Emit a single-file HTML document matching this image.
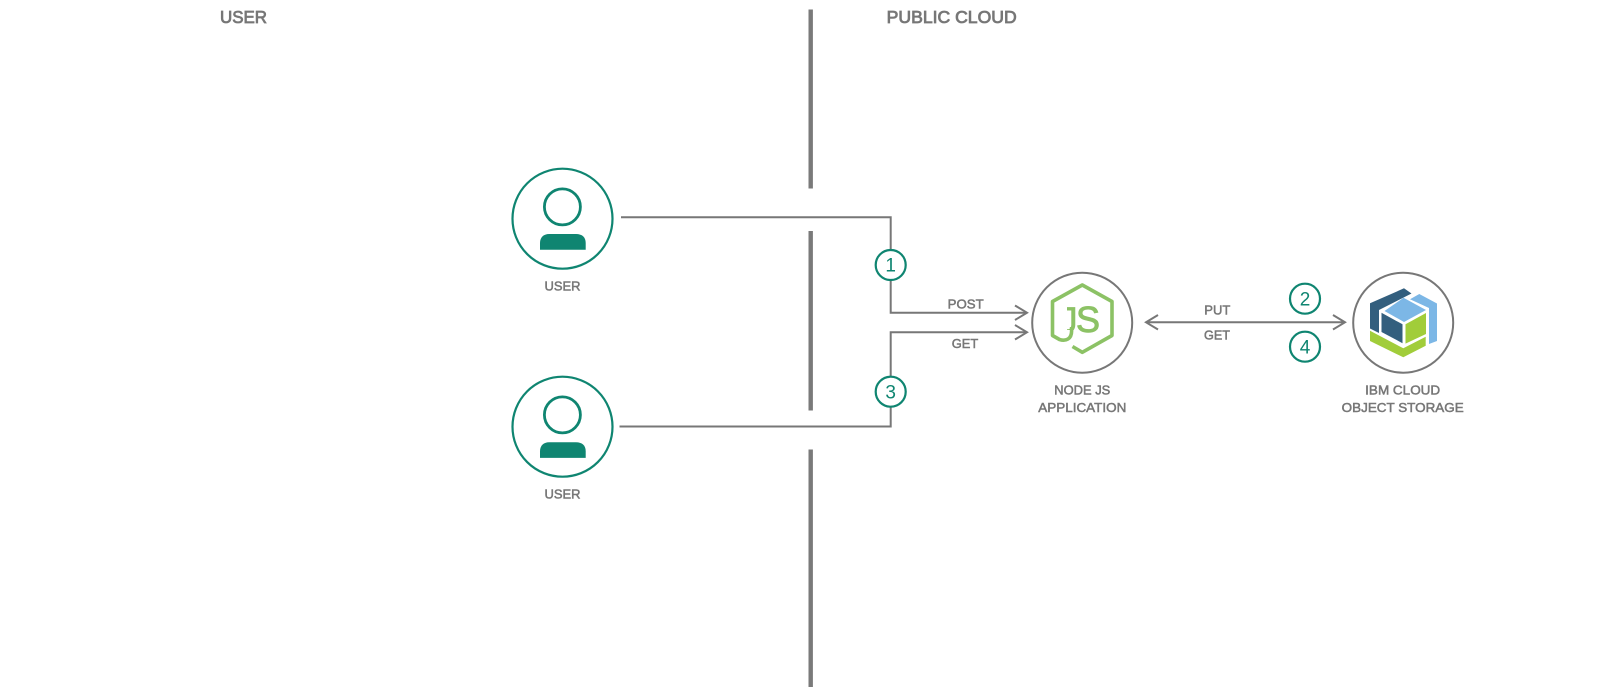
<!DOCTYPE html>
<html><head><meta charset="utf-8"><style>
html,body{margin:0;padding:0;background:#fff;width:1601px;height:697px;overflow:hidden}
svg{display:block}
text{font-family:"Liberation Sans",sans-serif}
.l{fill:#777;stroke:#777;stroke-width:.5;font-size:13px;text-anchor:middle}
.t{fill:#777;stroke:#777;stroke-width:.8;font-size:17.5px;text-anchor:middle}
.n{fill:#0f8571;font-size:19px;text-anchor:middle}
.c{fill:#fff;stroke:#0f8571;stroke-width:2.2}
.h{fill:#fff;stroke:#0f8571;stroke-width:2.8}
.g{fill:none;stroke:#777;stroke-width:2}
</style></head><body>
<svg width="1601" height="697" viewBox="0 0 1601 697" xmlns="http://www.w3.org/2000/svg">
<defs><clipPath id="jc"><rect x="1067" y="300" width="12" height="30"/></clipPath></defs>
<rect width="1601" height="697" fill="#fff"/>
<g stroke="#7a7a7a" stroke-width="4.4" fill="none">
<path d="M810.7 9.5V188.5M810.7 231V410.5M810.7 449.5V687"/>
</g>
<text class="t" x="243.5" y="23" textLength="47" lengthAdjust="spacingAndGlyphs">USER</text>
<text class="t" x="951.7" y="23" textLength="130" lengthAdjust="spacingAndGlyphs">PUBLIC CLOUD</text>

<path class="g" d="M621 217.3H890.7V312.7H1027"/>
<path class="g" d="M619.5 426.5H890.7V332.3H1027"/>
<path class="g" d="M1015 305.5L1027 312.7L1015 320M1015 325L1027 332.3L1015 339.5"/>
<path class="g" d="M1158 315L1146 322.3L1158 329.5M1146 322.3H1345M1333 315L1345 322.3L1333 329.5"/>

<circle class="c" cx="562.5" cy="218.7" r="50"/>
<circle class="h" cx="562.4" cy="206.9" r="18"/>
<path fill="#0f8571" d="M540 249.7V243C540 237 544 234 549 234H576C582 234 585.7 237 585.7 243V249.7Z"/>
<text class="l" x="562.5" y="290.5" textLength="36" lengthAdjust="spacingAndGlyphs">USER</text>

<circle class="c" cx="562.5" cy="426.7" r="50"/>
<circle class="h" cx="562.4" cy="414.9" r="18"/>
<path fill="#0f8571" d="M540 457.9V451.2C540 445.2 544 442.2 549 442.2H576C582 442.2 585.7 445.2 585.7 451.2V457.9Z"/>
<text class="l" x="562.5" y="498.7" textLength="36" lengthAdjust="spacingAndGlyphs">USER</text>

<circle class="c" cx="890.7" cy="265" r="15"/>
<text class="n" x="890.7" y="271.7">1</text>
<circle class="c" cx="890.7" cy="391.7" r="15"/>
<text class="n" x="890.7" y="398.4">3</text>
<circle class="c" cx="1305" cy="298.7" r="15"/>
<text class="n" x="1305" y="305.4">2</text>
<circle class="c" cx="1305" cy="346.7" r="15"/>
<text class="n" x="1305" y="353.4">4</text>

<text class="l" x="965.7" y="308.7" textLength="36" lengthAdjust="spacingAndGlyphs">POST</text>
<text class="l" x="965" y="348" textLength="26.5" lengthAdjust="spacingAndGlyphs">GET</text>
<text class="l" x="1217.3" y="314.7" textLength="26" lengthAdjust="spacingAndGlyphs">PUT</text>
<text class="l" x="1217" y="339.7" textLength="26" lengthAdjust="spacingAndGlyphs">GET</text>

<circle cx="1082.2" cy="322.7" r="50" fill="#fff" stroke="#777" stroke-width="2"/>
<path fill="none" stroke="#8cc265" stroke-width="3.6" stroke-linejoin="round" d="M1071.6 327V331C1071.6 339 1066 341.5 1059.5 339.5L1052.5 335.5V301.5L1082.3 285L1112 301.5V335.5L1082.3 352.3L1072.5 346.5"/>
<text x="1060" y="332.2" font-size="35" fill="#8cc265" stroke="#8cc265" stroke-width=".7" clip-path="url(#jc)">J</text>
<text x="1076" y="332" font-size="36" fill="#8cc265" stroke="#8cc265" stroke-width=".9">S</text>
<text class="l" x="1082.3" y="394.7" textLength="56" lengthAdjust="spacingAndGlyphs">NODE JS</text>
<text class="l" x="1082.3" y="412" textLength="88" lengthAdjust="spacingAndGlyphs">APPLICATION</text>

<circle cx="1403.2" cy="322.7" r="50" fill="#fff" stroke="#777" stroke-width="2"/>
<polygon fill="#335f7e" points="1370,303.3 1404,288.3 1411.5,293.5 1379,310 1379,333 1370,328.5"/>
<polygon fill="#7cb7e6" points="1419.3,294 1437,303.5 1437,341 1429,344 1429,308 1410,299.3"/>
<polygon fill="#7cb7e6" points="1403.5,297.8 1426,310 1404,322 1384.5,311"/>
<polygon fill="#335f7e" points="1381.5,312.8 1402.5,324.3 1402.5,343.2 1381.5,332"/>
<polygon fill="#a1cd3a" points="1405.5,324.3 1426,313 1426,334 1405.5,343.6"/>
<polygon fill="#a1cd3a" points="1370,330.7 1403.3,348.3 1425.7,336.7 1425.7,345.7 1403.3,357.3 1370,341"/>
<text class="l" x="1402.7" y="394.7" textLength="75" lengthAdjust="spacingAndGlyphs">IBM CLOUD</text>
<text class="l" x="1402.7" y="412" textLength="122" lengthAdjust="spacingAndGlyphs">OBJECT STORAGE</text>
</svg>
</body></html>
